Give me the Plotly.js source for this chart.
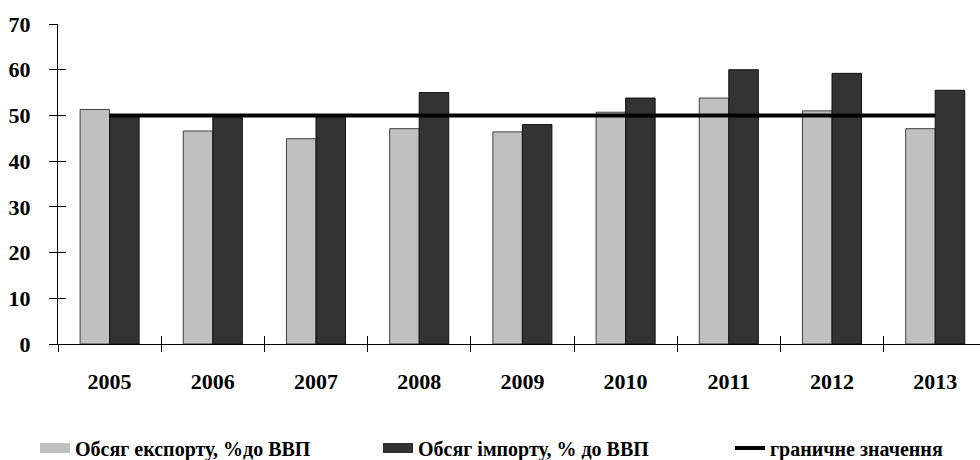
<!DOCTYPE html>
<html>
<head>
<meta charset="utf-8">
<script src="https://cdn.plot.ly/plotly-3.0.1.min.js"></script>
<style>html,body{margin:0;padding:0;background:#fff;}#chart{width:980px;height:460px;}</style>
</head>
<body>
<div id="chart"></div>
<script>
const years = [2005, 2006, 2007, 2008, 2009, 2010, 2011, 2012, 2013];
const yearLabels = ['2005','2006','2007','2008','2009','2010','2011','2012','2013'];
const exportShare = [51.3, 46.6, 44.9, 47.1, 46.4, 50.7, 53.8, 51.0, 47.1];
const importShare = [50.2, 49.5, 49.8, 55.0, 48.0, 53.8, 60.0, 59.2, 55.5];
const threshold = [50, 50, 50, 50, 50, 50, 50, 50, 50];
const seriesNames = ['Обсяг експорту, %до ВВП', 'Обсяг імпорту, % до ВВП', 'граничне значення'];
const yTicks = [0, 10, 20, 30, 40, 50, 60, 70];

const FONT = 'Liberation Serif, Times New Roman, serif';
const boundaries = years.map(y => y - 0.5);
const xRange = [2004.5, 2004.5 + 922 / 103.2];

const traces = [
  {type: 'bar', x: years, y: exportShare, name: seriesNames[0], showlegend: false,
   marker: {color: '#c0c0c0', line: {color: '#404040', width: 1}}},
  {type: 'bar', x: years, y: importShare, name: seriesNames[1], showlegend: false,
   marker: {color: '#333333', line: {color: '#111111', width: 1}}},
  {type: 'scatter', mode: 'lines', x: years, y: threshold, name: seriesNames[2], showlegend: false,
   line: {color: '#000000', width: 4}},
  // legend swatches
  {type: 'scatter', mode: 'lines', x: [null], y: [null], name: seriesNames[0], legend: 'legend',
   line: {color: '#c0c0c0', width: 10}},
  {type: 'scatter', mode: 'lines', x: [null], y: [null], name: seriesNames[1], legend: 'legend2',
   line: {color: '#333333', width: 10}},
  {type: 'scatter', mode: 'lines', x: [null], y: [null], name: seriesNames[2], legend: 'legend3',
   line: {color: '#000000', width: 4}},
  // helpers for crossing tick marks
  {type: 'scatter', x: [], y: [], xaxis: 'x2', yaxis: 'y2', showlegend: false, hoverinfo: 'skip'},
  {type: 'scatter', x: [], y: [], xaxis: 'x3', yaxis: 'y', showlegend: false, hoverinfo: 'skip'}
];

function legendAt(px) {
  return {orientation: 'h', xref: 'container', yref: 'container', x: px / 980, y: 1 - 448 / 460,
          xanchor: 'left', yanchor: 'middle', bgcolor: 'rgba(0,0,0,0)',
          font: {family: FONT, size: 20, color: '#000', weight: 700}};
}

const layout = {
  width: 980, height: 460,
  margin: {l: 58, r: 0, t: 24, b: 116, pad: 0},
  paper_bgcolor: '#ffffff', plot_bgcolor: '#ffffff',
  font: {family: FONT, size: 22, color: '#000', weight: 700},
  barmode: 'group', bargap: 0.428, bargroupgap: 0,
  showlegend: true,
  legend: legendAt(35),
  legend2: legendAt(378),
  legend3: legendAt(730),
  xaxis: {range: xRange, tickmode: 'array', tickvals: years, ticktext: yearLabels, ticks: '',
          showline: true, linecolor: '#000', linewidth: 1, showgrid: false, zeroline: false,
          ticklabelstandoff: 18, tickfont: {family: FONT, size: 22, weight: 700}},
  xaxis2: {overlaying: 'x', anchor: 'y', range: xRange, tickmode: 'array', tickvals: boundaries,
           ticks: 'outside', ticklen: 7, tickcolor: '#000', tickwidth: 1, showticklabels: false,
           showline: false, showgrid: false, zeroline: false},
  xaxis3: {overlaying: 'x', anchor: 'y', range: xRange, tickmode: 'array', tickvals: boundaries,
           ticks: 'inside', ticklen: 8, tickcolor: '#000', tickwidth: 1, showticklabels: false,
           showline: false, showgrid: false, zeroline: false},
  yaxis: {range: [0, 70], tickmode: 'array', tickvals: yTicks, ticks: 'outside', ticklen: 8,
          tickcolor: '#000', tickwidth: 1, showline: true, linecolor: '#000', linewidth: 1,
          showgrid: false, zeroline: false, ticklabelstandoff: 14,
          tickfont: {family: FONT, size: 22, weight: 700}},
  yaxis2: {overlaying: 'y', anchor: 'x', side: 'left', range: [0, 70], tickmode: 'array', tickvals: yTicks,
           ticks: 'inside', ticklen: 8, tickcolor: '#000', tickwidth: 1, showticklabels: false,
           showline: false, showgrid: false, zeroline: false}
};

Plotly.newPlot('chart', traces, layout, {displayModeBar: false, staticPlot: true});
</script>
</body>
</html>
